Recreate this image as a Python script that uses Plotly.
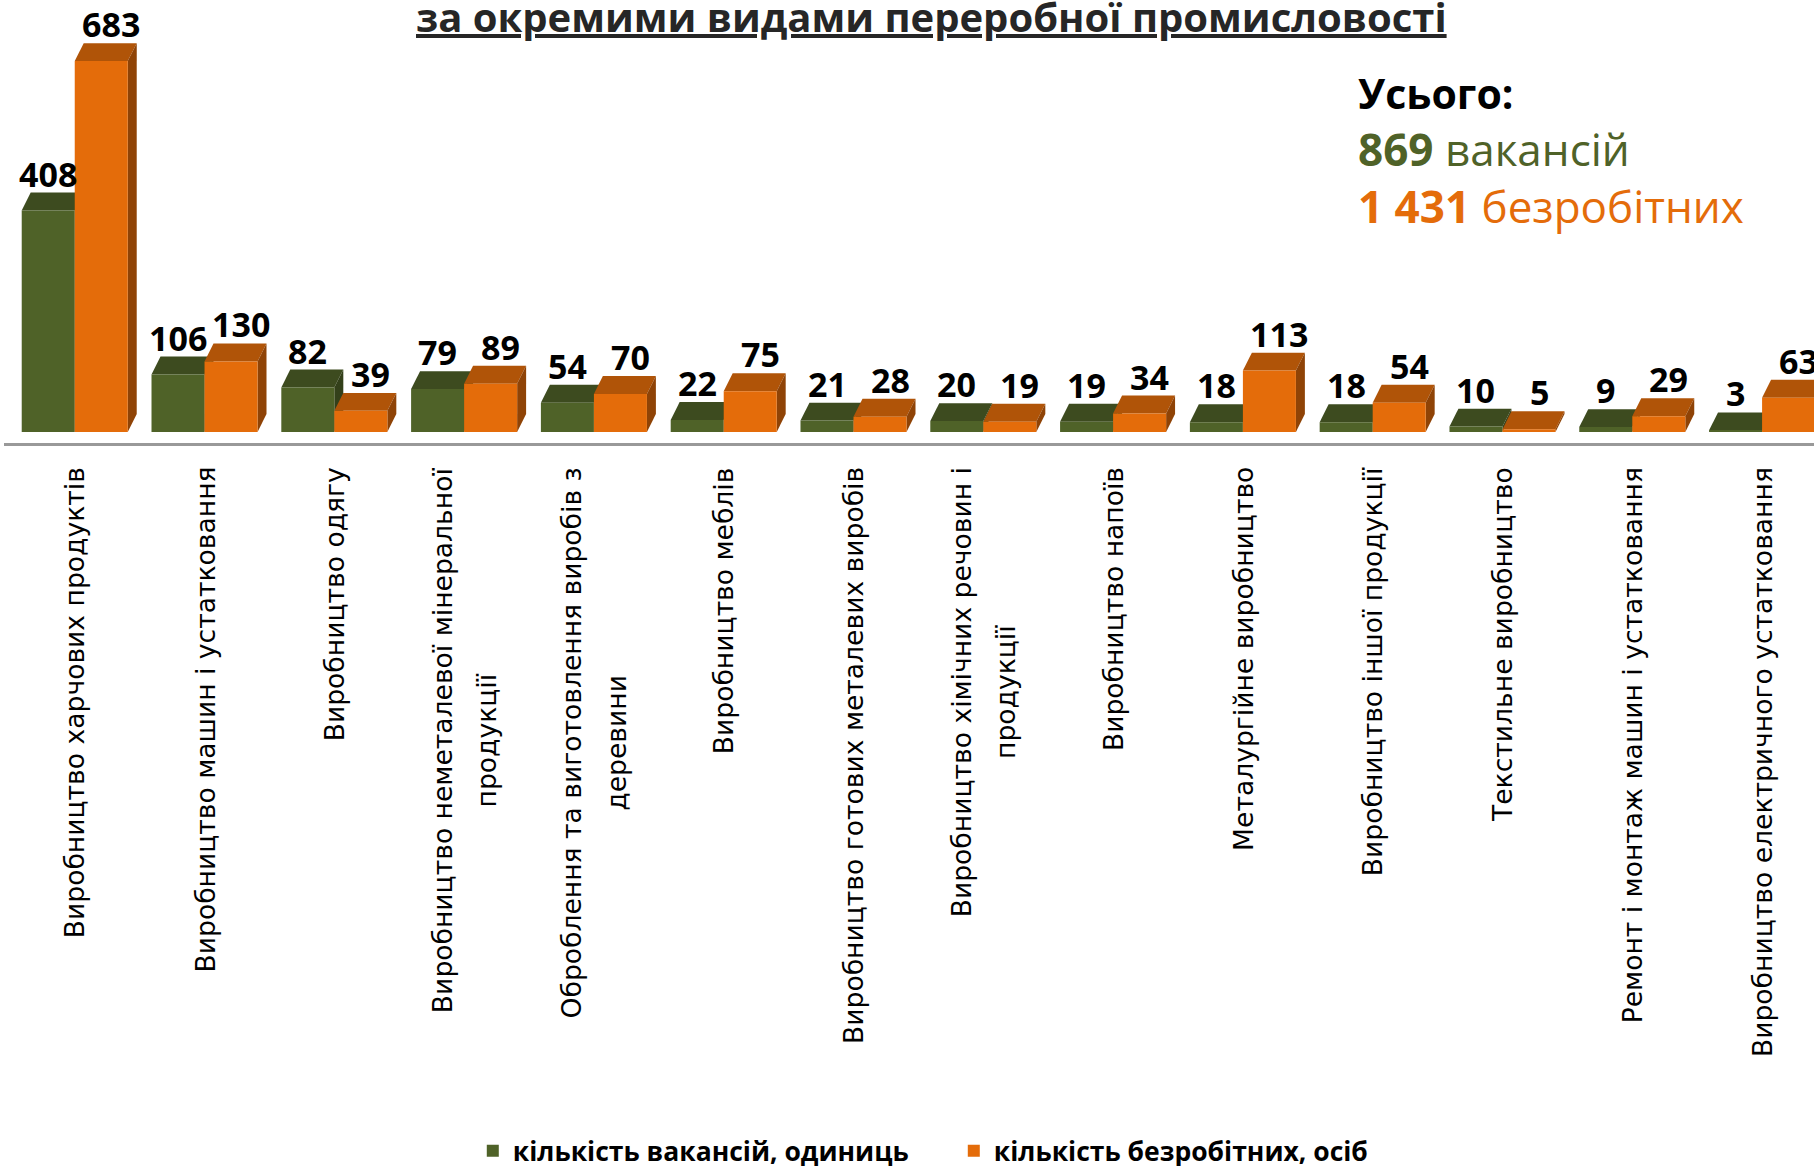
import plotly.graph_objects as go

categories = [
    "Виробництво харчових продуктів",
    "Виробництво машин і устатковання",
    "Виробництво одягу",
    "Виробництво неметалевої мінеральної<br>продукції",
    "Оброблення та виготовлення виробів з<br>деревини",
    "Виробництво меблів",
    "Виробництво готових металевих виробів",
    "Виробництво хімічних речовин і<br>продукції",
    "Виробництво напоїв",
    "Металургійне виробництво",
    "Виробництво іншої продукції",
    "Текстильне виробництво",
    "Ремонт і монтаж машин і устатковання",
    "Виробництво електричного устатковання",
]
vacancies = [408, 106, 82, 79, 54, 22, 21, 20, 19, 18, 18, 10, 9, 3]
unemployed = [683, 130, 39, 89, 70, 75, 28, 19, 34, 113, 54, 5, 29, 63]

series_names = ["кількість вакансій, одиниць", "кількість безробітних, осіб"]
title_text = "за окремими видами переробної промисловості"
total_vac = "869"
total_unemp = "1 431"

GREEN = "#4F6228"
GREEN_TOP = "#3D4B1F"
GREEN_SIDE = "#33401A"
ORANGE = "#E46C0A"
ORANGE_TOP = "#B05408"
ORANGE_SIDE = "#8F4306"

BARGAP = 0.183
W = (1 - BARGAP) / 2          # width of one bar in category units
DX = 0.069                    # 3D depth, x (category units)
DY = 33.0                     # 3D depth, y (data units)
X_RANGE = [-0.545, 13.40]
Y_RANGE = [-20.3, 795.5]

xs = list(range(len(categories)))

fig = go.Figure()
fig.add_trace(go.Bar(x=xs, y=vacancies, name=series_names[0],
                     marker=dict(color=GREEN, line=dict(width=0))))
fig.add_trace(go.Bar(x=xs, y=unemployed, name=series_names[1],
                     marker=dict(color=ORANGE, line=dict(width=0))))

shapes = []
annotations = []


def faces(xc, v, top, side):
    x1 = xc - W / 2
    x2 = xc + W / 2
    shapes.append(dict(type="path", layer="below", xref="x", yref="y",
                       path=f"M {x1},{v} L {x1+DX},{v+DY} L {x2+DX},{v+DY} L {x2},{v} Z",
                       fillcolor=top, line=dict(width=0)))
    shapes.append(dict(type="path", layer="below", xref="x", yref="y",
                       path=f"M {x2},0 L {x2},{v} L {x2+DX},{v+DY} L {x2+DX},{DY} Z",
                       fillcolor=side, line=dict(width=0)))


for i, (a, b) in enumerate(zip(vacancies, unemployed)):
    faces(i - W / 2, a, GREEN_TOP, GREEN_SIDE)
for i, (a, b) in enumerate(zip(vacancies, unemployed)):
    faces(i + W / 2, b, ORANGE_TOP, ORANGE_SIDE)

for i, (a, b) in enumerate(zip(vacancies, unemployed)):
    for xc, v, xs_ in ((i - W / 2, a, 0), (i + W / 2, b, 10)):
        annotations.append(dict(x=xc, y=v + DY, xref="x", yref="y", text=str(v),
                                showarrow=False, xanchor="center", yanchor="bottom",
                                yshift=-6, xshift=xs_,
                                font=dict(family="Open Sans", size=34, color="#000000", weight="bold")))

for i, c in enumerate(categories):
    annotations.append(dict(x=i, y=0, xref="x", yref="paper", yshift=-22,
                            text=f"<span style='font-size:26.6px'>{c}</span>",
                            showarrow=False, textangle=-90, align="center",
                            xanchor="center", yanchor="top",
                            font=dict(family="DejaVu Sans", size=34, color="#000000")))

annotations.append(dict(x=0.5127, y=1.029, xref="paper", yref="paper",
                        text=f"<u><b>{title_text}</b></u>", showarrow=False,
                        xanchor="center", yanchor="top",
                        font=dict(family="Open Sans", size=40, color="#262626")))

annotations.append(dict(x=0.747, y=0.858, xref="paper", yref="paper", align="left",
                        text=(f"<b><span style='font-size:41px'>Усього:</span></b><br>"
                              f"<span style='color:{GREEN}'><b>{total_vac}</b> вакансій</span><br>"
                              f"<span style='color:{ORANGE}'><b>{total_unemp}</b> безробітних</span>"),
                        showarrow=False, xanchor="left", yanchor="top",
                        font=dict(family="Open Sans", size=44, color="#000000")))

fig.update_layout(
    width=1814, height=1166,
    margin=dict(l=4, r=0, t=0, b=723, pad=0),
    paper_bgcolor="white", plot_bgcolor="white",
    barmode="group", bargap=BARGAP, bargroupgap=0,
    shapes=shapes, annotations=annotations,
    showlegend=True,
    legend=dict(orientation="h", x=0.259, xanchor="left", y=0.0335, yanchor="top",
                yref="container", entrywidth=436, entrywidthmode="pixels",
                font=dict(family="Open Sans", size=26.5, color="#000000", weight="bold"),
                bgcolor="rgba(0,0,0,0)"),
    xaxis=dict(range=X_RANGE, showline=True, linecolor="#999999", linewidth=3,
               showgrid=False, zeroline=False, showticklabels=False, ticks="", fixedrange=True),
    yaxis=dict(range=Y_RANGE, visible=False, showgrid=False, zeroline=False, fixedrange=True),
)

fig.write_html("out.html", config={"displayModeBar": False},
               post_script="document.body.style.margin='0px';")
